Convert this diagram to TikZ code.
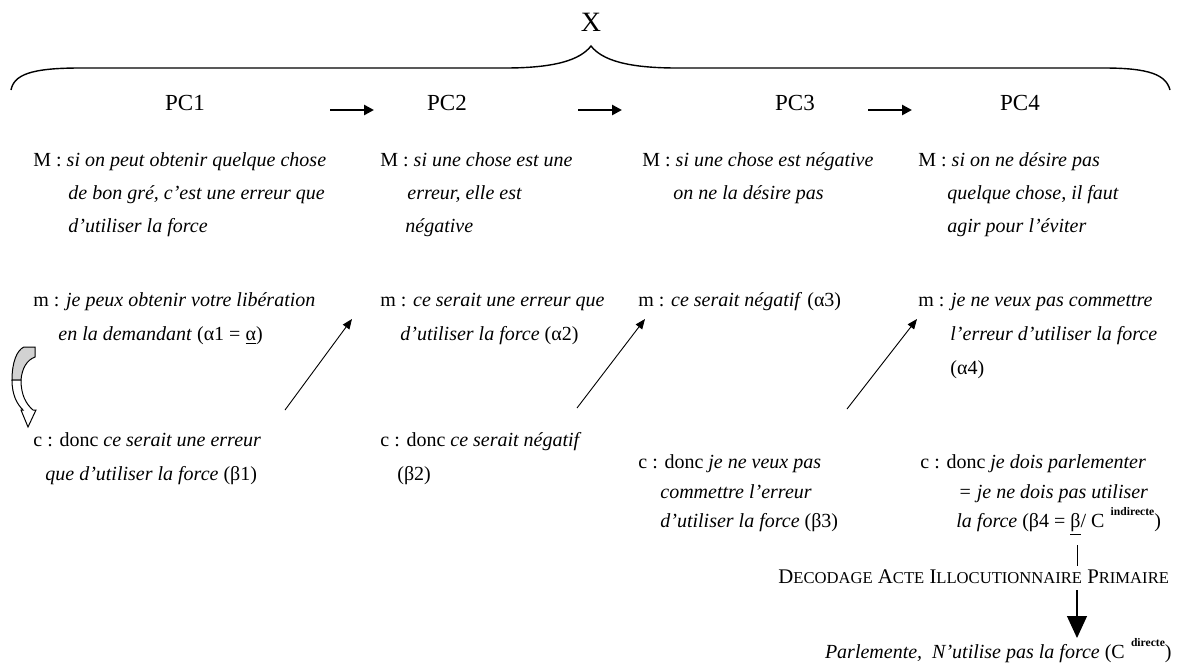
\documentclass[tikz,border=0pt]{standalone}
\usepackage{fontspec}
\setmainfont{Liberation Serif}
\usetikzlibrary{arrows.meta}
\newcommand\smc[1]{{\fontsize{8.3}{10}\selectfont #1}}
\newcommand\supword[1]{\raisebox{1.2ex}{\fontsize{5.8}{6}\selectfont\bfseries\ #1}}
\begin{document}
\begin{tikzpicture}[x=0.5pt,y=-0.5pt,
  txt/.style={inner sep=0pt,anchor=base west,font=\fontsize{10}{12}\selectfont},
  head/.style={inner sep=0pt,font=\fontsize{11.5}{13}\selectfont},
  stepArrow/.style={line width=1.3pt,-{Triangle[length=5pt,width=5pt]}},
  linkArrow/.style={line width=0.45pt,-{Triangle[length=5pt,width=4pt]}},
  brace/.style={line width=0.7pt}]
\useasboundingbox (0,0) rectangle (1179,665);

% title and brace
\node[inner sep=0pt,font=\fontsize{14}{16}\selectfont] (X) at (591,22) {X};
\draw[brace] (11,90) .. controls (14,75) and (30,68) .. (80,68) -- (505,68)
  .. controls (555,68) and (580,60) .. (591,46)
  .. controls (602,60) and (627,68) .. (677,68) -- (1104,68)
  .. controls (1150,68) and (1166,75) .. (1170,90);

% column headings
\node[head] (PC1) at (185,103) {PC1};
\node[head] (PC2) at (447,103) {PC2};
\node[head] (PC3) at (795,103) {PC3};
\node[head] (PC4) at (1020,103) {PC4};
\coordinate (s1) at (330,110); \coordinate (e1) at (374,110);
\coordinate (s2) at (578,110); \coordinate (e2) at (622,110);
\coordinate (s3) at (868,110); \coordinate (e3) at (912,110);
\draw[stepArrow] (s1) -- (e1);
\draw[stepArrow] (s2) -- (e2);
\draw[stepArrow] (s3) -- (e3);

% PC1
\node[txt] (M1a) at (33,166) {M : \textit{si on peut obtenir quelque chose}};
\node[txt] (M1b) at (68,199) {\textit{de bon gré, c’est une erreur que}};
\node[txt] (M1c) at (68,232) {\textit{d’utiliser la force}};
\node[txt] (m1a) at (33,306) {m : \textit{je peux obtenir votre libération}};
\node[txt] (m1b) at (58,340) {\textit{en la demandant} (α1 = \underline{α})};
\node[txt] (c1a) at (33,446) {c : donc \textit{ce serait une erreur}};
\node[txt] (c1b) at (45,480) {\textit{que d’utiliser la force} (β1)};

% PC2
\node[txt] (M2a) at (380,166) {M : \textit{si une chose est une}};
\node[txt] (M2b) at (407,199) {\textit{erreur, elle est}};
\node[txt] (M2c) at (405,232) {\textit{négative}};
\node[txt] (m2a) at (380,306) {m : \textit{ce serait une erreur que}};
\node[txt] (m2b) at (400,340) {\textit{d’utiliser la force} (α2)};
\node[txt] (c2a) at (380,446) {c : donc \textit{ce serait négatif}};
\node[txt] (c2b) at (397,480) {(β2)};

% PC3
\node[txt] (M3a) at (642,166) {M : \textit{si une chose est négative}};
\node[txt] (M3b) at (673,199) {\textit{on ne la désire pas}};
\node[txt] (m3a) at (638,306) {m : \textit{ce serait négatif} (α3)};
\node[txt] (c3a) at (638,468) {c : donc \textit{je ne veux pas}};
\node[txt] (c3b) at (660,498) {\textit{commettre l’erreur}};
\node[txt] (c3c) at (660,527) {\textit{d’utiliser la force} (β3)};

% PC4
\node[txt] (M4a) at (918,166) {M : \textit{si on ne désire pas}};
\node[txt] (M4b) at (947,199) {\textit{quelque chose, il faut}};
\node[txt] (M4c) at (947,232) {\textit{agir pour l’éviter}};
\node[txt] (m4a) at (918,306) {m : \textit{je ne veux pas commettre}};
\node[txt] (m4b) at (950,340) {\textit{l’erreur d’utiliser la force}};
\node[txt] (m4c) at (950,374) {(α4)};
\node[txt] (c4a) at (920,468) {c : donc \textit{je dois parlementer}};
\node[txt] (c4b) at (958,498) {\textit{= je ne dois pas utiliser}};
\node[txt] (c4c) at (956,527) {\textit{la force} (β4 = \underline{β}/ C\,\supword{indirecte})};

% links from each conclusion to the next minor premise
\coordinate (l1s) at (285,410); \coordinate (l1e) at (352,319);
\coordinate (l2s) at (577,408); \coordinate (l2e) at (645,319);
\coordinate (l3s) at (847,409); \coordinate (l3e) at (917,319);
\draw[linkArrow] (l1s) -- (l1e);
\draw[linkArrow] (l2s) -- (l2e);
\draw[linkArrow] (l3s) -- (l3e);

% curved block arrow beside PC1
\draw[line width=0.5pt,fill=gray!35] (24,347) -- (35,347) -- (35,357)
  .. controls (27,360) and (22,368) .. (21,380) -- (12,380)
  .. controls (12,362) and (17,350) .. (24,347) -- cycle;
\draw[line width=0.5pt,fill=white] (12,380) .. controls (12,395) and (17,404) .. (23,410)
  -- (21,410) -- (28,427) -- (36,410) -- (33,410)
  .. controls (26,404) and (21,395) .. (21,380) -- cycle;

% decoding of the primary illocutionary act
\node[txt,font=\fontsize{10.4}{12}\selectfont] (dec) at (778,583)
  {D\smc{ECODAGE} A\smc{CTE} I\smc{LLOCUTIONNAIRE} P\smc{RIMAIRE}};
\node[txt,anchor=base east] (par) at (1172,658)
  {\textit{Parlemente,\enspace N’utilise pas la force} (C\,\supword{directe})};
\coordinate (v1) at (1077,545);
\coordinate (v2) at (1077,566);
\coordinate (v3) at (1077,590);
\coordinate (v4) at (1077,638);
\draw[line width=0.5pt] (v1) -- (v2);
\draw[line width=0.6pt,-{Triangle[length=11pt,width=10pt]}] (v3) -- (v4);
\end{tikzpicture}
\end{document}
